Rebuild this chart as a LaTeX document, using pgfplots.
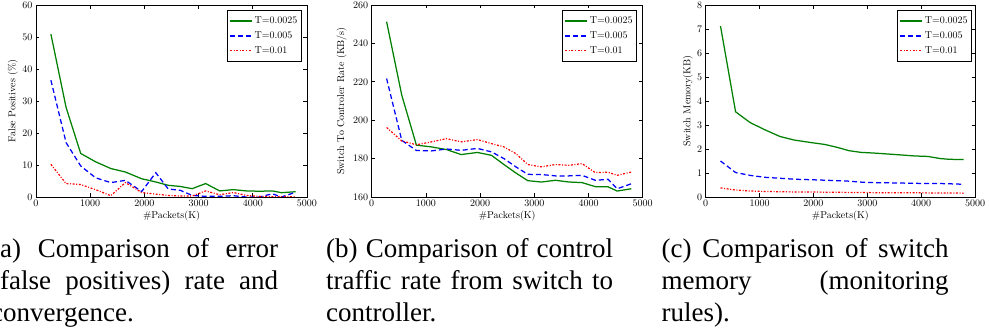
\documentclass[border=0pt]{standalone}
\usepackage{fontspec}
\usepackage{pgfplots}
\usepackage{pgfplotstable}
\pgfplotsset{compat=1.18}
\newfontfamily\capfont{Liberation Serif}
\definecolor{mgreen}{rgb}{0,0.5,0}

\pgfplotstableread{
x g b r
275 50.9 36.5 10.2
555 28 17 4.2
825 13.6 9.7 3.9
1100 11 6.0 2.3
1380 8.9 4.5 0.4
1650 7.8 5.2 4.5
1950 5.7 1.7 1.4
2210 4.7 7.6 0.9
2440 3.65 2.5 0.5
2660 3.3 2.1 0.3
2880 2.6 0.5 0.3
3130 4.2 0.2 1.9
3390 1.9 0.2 0.7
3640 2.3 0.4 1.4
3880 1.9 0.0 0.5
4125 1.8 0.0 0.2
4360 1.9 1.0 0.1
4530 1.35 0.0 0.1
4790 1.65 1.5 0.1
}\tabA

\pgfplotstableread{
x g b r
275 251.3 221.7 196.2
555 213 189.5 189.2
825 187 184.2 187.2
1100 186.1 184.0 188.7
1380 184.7 185.0 190.4
1650 182.1 184.3 188.7
1950 183.2 185.3 189.9
2210 181.7 183.5 187.8
2440 176.9 180.0 186.1
2660 172.5 175.7 182.6
2880 168.5 171.8 176.9
3130 167.8 171.7 175.7
3390 168.7 171.0 176.9
3640 167.8 171.0 176.5
3880 167.5 171.3 177.4
4125 165.4 168.7 172.7
4360 165.3 169.2 172.9
4530 163.1 164.3 171.3
4790 164.3 166.9 173.0
}\tabB

\pgfplotstableread{
x g b r
275 7.12 1.5 0.38
555 3.55 1.02 0.29
825 3.1 0.9 0.25
1100 2.8 0.82 0.23
1380 2.52 0.78 0.22
1650 2.37 0.74 0.21
1950 2.27 0.72 0.21
2210 2.19 0.70 0.20
2440 2.07 0.68 0.20
2660 1.93 0.66 0.19
2880 1.86 0.62 0.19
3130 1.83 0.60 0.18
3390 1.79 0.59 0.18
3640 1.75 0.58 0.18
3880 1.71 0.57 0.18
4125 1.69 0.56 0.17
4360 1.60 0.56 0.17
4530 1.57 0.55 0.17
4790 1.56 0.53 0.16
}\tabC

\pgfplotsset{
  mystyle/.style={
    scale only axis, width=271pt, height=192pt,
    xmin=0, xmax=5000, xtick={0,1000,...,5000},
    tick label style={font=\fontsize{10}{12}\selectfont},
    label style={font=\fontsize{10}{12}\selectfont},
    /pgf/number format/1000 sep={},
    scaled ticks=false,
    major tick length=3.5pt,
    tick style={black, line width=0.6pt},
    axis line style={line width=0.8pt},
    xlabel={\#Packets(K)},
    xlabel style={at={(axis description cs:0.5,0)}, anchor=center, yshift=-19.5pt},
    legend style={draw=black, line width=0.8pt, font=\fontsize{10}{12}\selectfont,
      cells={anchor=west}, inner xsep=2pt, inner ysep=3pt,
      nodes={text height=8pt, text depth=3pt}},
    legend image code/.code={\draw[#1] (0pt,0pt) -- (22pt,0pt);},
  },
  gs/.style={color=mgreen, line width=1.25pt},
  bs/.style={color=blue, line width=1.25pt, dash pattern=on 5pt off 3pt},
  rs/.style={color=red, line width=1.2pt, dash pattern=on 2pt off 1.6pt on 1pt off 1.6pt},
}

\begin{document}
\begin{tikzpicture}
\useasboundingbox (0pt,0pt) rectangle (989pt,332pt);

\begin{axis}[mystyle, at={(36pt,135pt)}, anchor=south west,
  ymin=0, ymax=60, ytick={0,10,...,60},
  ylabel={False Positives (\%)},
  ylabel style={at={(axis description cs:-0.085,0.5)}, anchor=center},
  legend style={at={(axis description cs:0.981,0.974)}, anchor=north east}]
\addplot[gs] table[x=x,y=g]{\tabA};
\addplot[bs] table[x=x,y=b]{\tabA};
\addplot[rs] table[x=x,y=r]{\tabA};
\legend{T=0.0025,T=0.005,T=0.01}
\end{axis}

\begin{axis}[mystyle, at={(371.7pt,135pt)}, anchor=south west,
  ymin=160, ymax=260, ytick={160,180,...,260},
  ylabel={Switch To Controler Rate (KB/s)},
  ylabel style={at={(axis description cs:-0.111,0.5)}, anchor=center},
  legend style={at={(axis description cs:0.979,0.974)}, anchor=north east}]
\addplot[gs] table[x=x,y=g]{\tabB};
\addplot[bs] table[x=x,y=b]{\tabB};
\addplot[rs] table[x=x,y=r]{\tabB};
\legend{T=0.0025,T=0.005,T=0.01}
\end{axis}

\begin{axis}[mystyle, at={(705.7pt,135pt)}, anchor=south west, width=269.3pt,
  ymin=0, ymax=8, ytick={0,1,...,8},
  ylabel={Switch Memory(KB)},
  ylabel style={at={(axis description cs:-0.066,0.5)}, anchor=center},
  legend style={at={(axis description cs:0.989,0.974)}, anchor=north east}]
\addplot[gs] table[x=x,y=g]{\tabC};
\addplot[bs] table[x=x,y=b]{\tabC};
\addplot[rs] table[x=x,y=r]{\tabC};
\legend{T=0.0025,T=0.005,T=0.01}
\end{axis}

\tikzset{mycap/.style={anchor=base west, inner sep=0pt, text width=287pt, align=justify,
  font=\capfont\fontsize{27}{32}\selectfont}}
\node[mycap] at (-9pt,74pt) {(a) Comparison of error\linebreak (false positives) rate and\linebreak convergence.};
\node[mycap] at (326pt,74pt) {(b) Comparison of control\linebreak traffic rate from switch to\linebreak controller.};
\node[mycap] at (661.5pt,74pt) {(c) Comparison of switch\linebreak memory (monitoring\linebreak rules).};
\end{tikzpicture}
\end{document}
